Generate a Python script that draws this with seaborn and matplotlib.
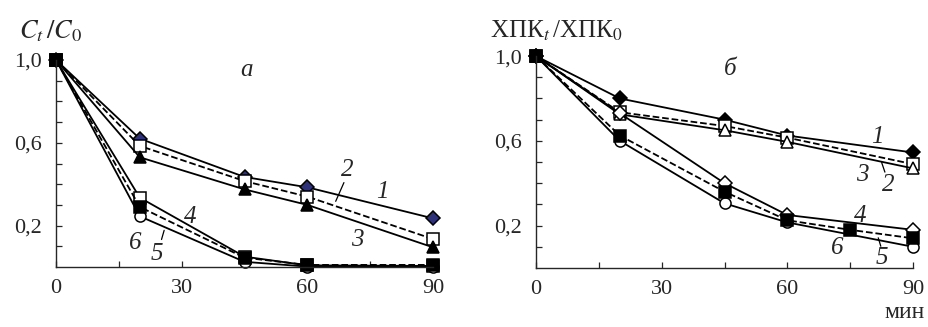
import matplotlib
matplotlib.use("Agg")
import matplotlib.pyplot as plt
import seaborn as sns
import pandas as pd

sns.set_style("ticks")
plt.rcParams['font.family'] = ['Liberation Serif', 'DejaVu Serif']
plt.rcParams['mathtext.fontset'] = 'stix'

# time, min
t = [0, 20, 45, 60, 90]
t5b = [0, 20, 45, 60, 75, 90]

# panel a: C_t / C_0
a1 = [1.0, 0.62, 0.435, 0.385, 0.235]
a2 = [1.0, 0.585, 0.415, 0.34, 0.135]
a3 = [1.0, 0.53, 0.375, 0.30, 0.095]
a4 = [1.0, 0.335, 0.05, 0.008, 0.005]
a5 = [1.0, 0.29, 0.045, 0.01, 0.01]
a6 = [1.0, 0.245, 0.025, 0.002, 0.002]

# panel b: COD_t / COD_0
b1 = [1.0, 0.80, 0.70, 0.625, 0.545]
b2 = [1.0, 0.735, 0.67, 0.615, 0.49]
b3 = [1.0, 0.725, 0.65, 0.595, 0.47]
b4 = [1.0, 0.73, 0.40, 0.25, 0.18]
b5 = [1.0, 0.625, 0.36, 0.225, 0.18, 0.14]
b6 = [1.0, 0.60, 0.305, 0.215, 0.10]

navy = '#2e3078'
styles_a = [
    (t, a1, 'D', navy, '-'),
    (t, a2, 's', 'white', '--'),
    (t, a3, '^', 'black', '-'),
    (t, a4, 's', 'white', '-'),
    (t, a6, 'o', 'white', '-'),
    (t, a5, 's', 'black', '--'),
]
styles_b = [
    (t, b1, 'D', 'black', '-'),
    (t, b2, 's', 'white', '--'),
    (t, b3, '^', 'white', '-'),
    (t, b4, 'D', 'white', '-'),
    (t, b6, 'o', 'white', '-'),
    (t5b, b5, 's', 'black', '--'),
]

fig = plt.figure(figsize=(9.29, 3.27), dpi=100)
ax1 = fig.add_axes([0.0603, 0.1835, 0.4058, 0.633])
ax2 = fig.add_axes([0.577, 0.1805, 0.4058, 0.648])


def draw(ax, series):
    for x, y, m, fc, ls in series:
        df = pd.DataFrame({'t': x, 'v': y})
        sns.lineplot(data=df, x='t', y='v', ax=ax, color='black', lw=1.3,
                     linestyle=ls, marker=m, markersize=8 if m != 'D' else 7.5,
                     markerfacecolor=fc, markeredgecolor='black',
                     markeredgewidth=1.1, clip_on=False,
                     dashes=False if ls == '-' else (6, 3))
    ax.set_xlim(0, 90)
    ax.set_ylim(0, 1.0)
    ax.set_xticks([0, 15, 30, 45, 60, 75, 90])
    ax.set_xticklabels(['0', '', '30', '', '60', '', '90'])
    yt = [0.1 * i for i in range(1, 11)]
    ax.set_yticks(yt)
    ax.set_yticklabels(['1,0' if abs(v - 1) < 1e-6 else '0,6' if abs(v - 0.6) < 1e-6
                        else '0,2' if abs(v - 0.2) < 1e-6 else '' for v in yt])
    ax.tick_params(direction='in', length=4, width=0.9, labelsize=16, pad=10)
    ax.tick_params(axis='x', pad=9)
    ax.set_xlabel('')
    ax.set_ylabel('')
    sns.despine(ax=ax)
    for s in ['left', 'bottom']:
        ax.spines[s].set_linewidth(1.0)


draw(ax1, styles_a)
draw(ax2, styles_b)

lab = dict(fontsize=18, style='italic', ha='center', va='center')
ax1.text(45.5, 0.95, 'a', **lab)
ax1.text(78, 0.36, '1', **lab)
ax1.text(69.5, 0.47, '2', **lab)
ax1.text(72, 0.13, '3', **lab)
ax1.text(32, 0.24, '4', **lab)
ax1.text(19, 0.115, '6', **lab)
ax1.text(24, 0.065, '5', **lab)
ax1.annotate('', xy=(66.5, 0.305), xytext=(69, 0.42),
             arrowprops=dict(arrowstyle='-', lw=0.9, color='black'))
ax1.annotate('', xy=(26, 0.19), xytext=(25, 0.12),
             arrowprops=dict(arrowstyle='-', lw=0.9, color='black'))

ax2.text(46.3, 0.94, 'б', **lab)
ax2.text(81.6, 0.62, '1', **lab)
ax2.text(78, 0.44, '3', **lab)
ax2.text(84, 0.39, '2', **lab)
ax2.text(77.5, 0.245, '4', **lab)
ax2.text(72, 0.095, '6', **lab)
ax2.text(82.5, 0.045, '5', **lab)
ax2.annotate('', xy=(83.5, 0.44), xytext=(82.3, 0.51),
             arrowprops=dict(arrowstyle='-', lw=0.9, color='black'))
ax2.annotate('', xy=(82.5, 0.09), xytext=(81.5, 0.155),
             arrowprops=dict(arrowstyle='-', lw=0.9, color='black'))

fig.text(0.020, 0.905, r'$C_t\,/C_0$', fontsize=19, ha='left', va='center')
fig.text(0.527, 0.905, r'ХПК$_t\,$/ХПК$_0$', fontsize=18, ha='left', va='center')
fig.text(0.995, 0.012, 'мин', fontsize=17, ha='right', va='bottom')

fig.savefig('out.png', dpi=100)
